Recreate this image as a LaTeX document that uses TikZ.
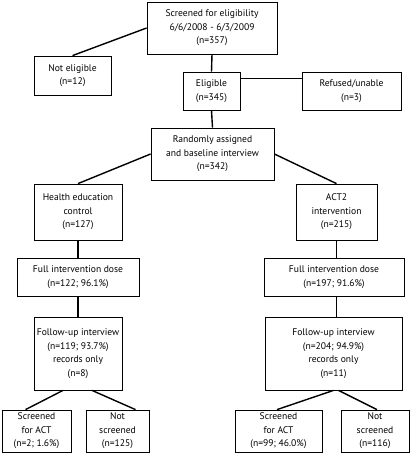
\documentclass[tikz,border=0pt]{standalone}
\usepackage{fontspec}
\setmainfont{PT Sans}
\usetikzlibrary{positioning}

\begin{document}
\begin{tikzpicture}[
    x=1pt, y=-1pt,
    box/.style = {draw, line width=0.8pt, align=center, inner sep=0pt,
                  minimum width=#1, font=\fontsize{9.6}{13.5}\selectfont},
    box/.default=2cm,
    link/.style = {line width=1.4pt}
  ]
  \useasboundingbox (0,0) rectangle (415,465);

  \node[box=130pt, minimum height=52pt] (screen) at (212,28) {Screened for eligibility\\6/6/2008 - 6/3/2009\\(n=357)};
  \node[box=77pt, minimum height=39pt] (noelig) at (72.5,75.5) {Not eligible\\(n=12)};
  \node[box=57pt, minimum height=38pt] (elig) at (211.5,91) {Eligible\\(n=345)};
  \node[box=99pt, minimum height=38pt] (refused) at (351.5,91) {Refused/unable\\(n=3)};
  \node[box=123pt, minimum height=52pt] (random) at (212.5,154) {Randomly assigned\\and baseline interview\\(n=342)};

  \node[box=88pt, minimum height=56pt] (health) at (78,212) {Health education\\control\\(n=127)};
  \node[box=81pt, minimum height=56pt] (act) at (336.5,212) {ACT2\\intervention\\(n=215)};

  \node[box=122pt, minimum height=38pt] (doseL) at (78,277) {Full intervention dose\\(n=122; 96.1\%)};
  \node[box=140pt, minimum height=38pt] (doseR) at (334,277) {Full intervention dose\\(n=197; 91.6\%)};

  \node[box=88pt, minimum height=73pt] (followL) at (78,353.5) {Follow-up interview\\(n=119; 93.7\%)\\records only\\(n=8)};
  \node[box=137pt, minimum height=73pt] (followR) at (333.5,353.5) {Follow-up interview\\(n=204; 94.9\%)\\records only\\(n=11)};

  \node[box=69pt, minimum height=42pt] (scrL) at (36.5,431) {Screened\\for ACT\\(n=2; 1.6\%)};
  \node[box=63pt, minimum height=42pt] (notL) at (117.5,431) {Not\\screened\\(n=125)};
  \node[box=87pt, minimum height=42pt] (scrR) at (278.5,431) {Screened\\for ACT\\(n=99; 46.0\%)};
  \node[box=68pt, minimum height=42pt] (notR) at (375,431) {Not\\screened\\(n=116)};

  \draw[link] (screen.west) -- (noelig.north);
  \draw[link] (screen.south) -- (elig.north);
  \draw[link] ([yshift=-7pt]elig.north east) -- ([yshift=-7pt]refused.north west);
  \draw[link] (elig.south) -- (random.north);
  \draw[link] (random.west) -- (health.north);
  \draw[link] (random.east) -- (act.north);

  \draw[link] (health.south) -- (doseL.north);
  \draw[link] (act.south) -- (act.south |- doseR.north);
  \draw[link] (doseL.south) -- (followL.south |- followL.north);
  \draw[link] (act.south |- doseR.south) -- (act.south |- followR.north);

  \draw[link] ([xshift=-15pt]followL.south) -- ([xshift=-11pt]scrL.north);
  \draw[link] ([xshift=14pt]followL.south) -- ([xshift=18pt]notL.north);
  \draw[link] (followR.south) -- ([xshift=-1.5pt]scrR.north);
  \draw[link] ([xshift=5pt]followR.south) -- ([xshift=2pt]notR.north);

\end{tikzpicture}
\end{document}
